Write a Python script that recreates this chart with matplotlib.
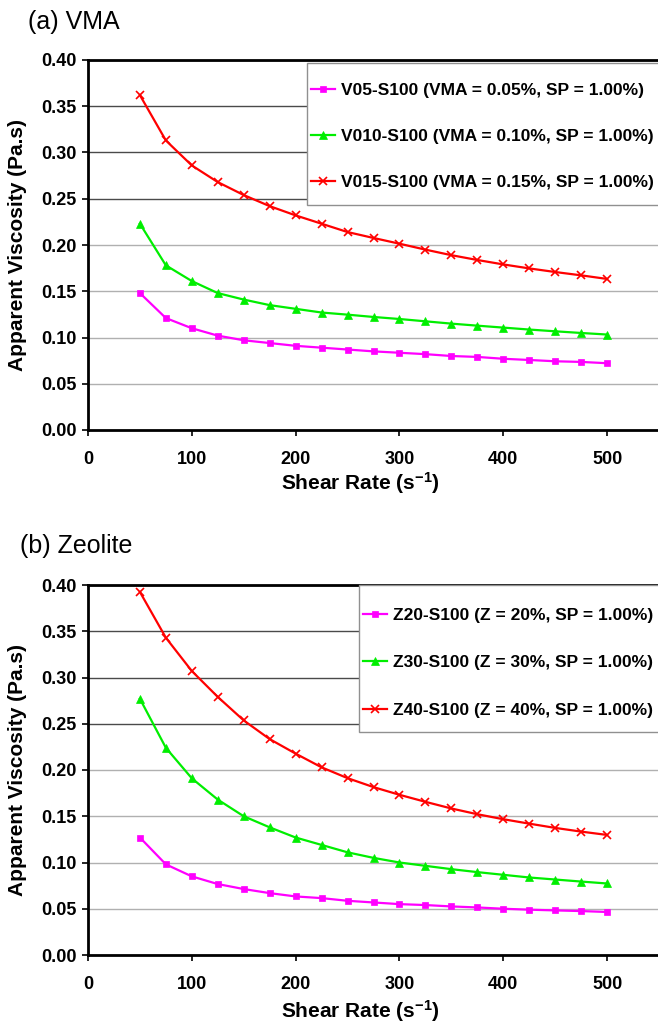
import matplotlib
matplotlib.use("Agg")
import matplotlib.pyplot as plt
from matplotlib.patches import Rectangle
from matplotlib.ticker import FormatStrFormatter, MultipleLocator

plt.rcParams['font.family'] = ['Liberation Sans', 'DejaVu Sans']
plt.rcParams['mathtext.fontset'] = 'custom'
plt.rcParams['mathtext.bf'] = 'Liberation Sans:bold'
plt.rcParams['mathtext.rm'] = 'Liberation Sans:bold'
plt.rcParams['mathtext.default'] = 'bf'

shear_rate = [50, 75, 100, 125, 150, 175, 200, 225, 250, 275, 300,
              325, 350, 375, 400, 425, 450, 475, 500]

# (a) VMA
v05 = [0.148, 0.121, 0.110, 0.102, 0.097, 0.094, 0.091, 0.089, 0.087, 0.085,
       0.0835, 0.082, 0.080, 0.079, 0.077, 0.0757, 0.0743, 0.0736, 0.0722]
v010 = [0.223, 0.178, 0.161, 0.148, 0.141, 0.135, 0.131, 0.127, 0.1247, 0.1222,
        0.120, 0.1175, 0.115, 0.1128, 0.1107, 0.1086, 0.1067, 0.1049, 0.1032]
v015 = [0.362, 0.313, 0.286, 0.268, 0.254, 0.242, 0.232, 0.223, 0.214, 0.2076,
        0.2014, 0.195, 0.189, 0.1838, 0.179, 0.1747, 0.1708, 0.1672, 0.1633]

# (b) Zeolite
z20 = [0.127, 0.098, 0.085, 0.0767, 0.0713, 0.0669, 0.0633, 0.0615, 0.0586, 0.0568,
       0.055, 0.054, 0.0525, 0.0514, 0.050, 0.049, 0.0482, 0.0475, 0.0465]
z30 = [0.277, 0.224, 0.191, 0.168, 0.150, 0.138, 0.127, 0.119, 0.111, 0.105,
       0.100, 0.0964, 0.0928, 0.0896, 0.0867, 0.0838, 0.0816, 0.0794, 0.0773]
z40 = [0.3925, 0.343, 0.307, 0.279, 0.2536, 0.2334, 0.2177, 0.2029, 0.1912, 0.1815,
       0.1732, 0.1656, 0.1584, 0.1522, 0.1468, 0.142, 0.1374, 0.1334, 0.1298]

labels_a = ["V05-S100 (VMA = 0.05%, SP = 1.00%)",
            "V010-S100 (VMA = 0.10%, SP = 1.00%)",
            "V015-S100 (VMA = 0.15%, SP = 1.00%)"]
labels_b = ["Z20-S100 (Z = 20%, SP = 1.00%)",
            "Z30-S100 (Z = 30%, SP = 1.00%)",
            "Z40-S100 (Z = 40%, SP = 1.00%)"]
titles = ["(a) VMA", "(b) Zeolite"]

colors = ['#FF00FF', '#00EE00', '#FF0000']
markers = ['s', '^', 'x']
msizes = [5, 6, 6]

W, H = 658, 1027
fig = plt.figure(figsize=(W / 100, H / 100), dpi=100)

def px_axes(left, top, right, bottom):
    return [left / W, 1 - bottom / H, (right - left) / W, (bottom - top) / H]

panels = [
    dict(rect=px_axes(88, 60, 659, 430), series=[v05, v010, v015], labels=labels_a,
         title=titles[0], title_xy=(28, 22), xlab_y=483,
         box=(307, 63, 205), leg=(311, 83), lsp=1.78),
    dict(rect=px_axes(88, 585, 659, 955), series=[z20, z30, z40], labels=labels_b,
         title=titles[1], title_xy=(20, 546), xlab_y=1011,
         box=(359, 585, 732), leg=(363, 608), lsp=1.85),
]

for p in panels:
    ax = fig.add_axes(p['rect'])
    l, b, w, h = p['rect']
    ax_left_px = l * W
    ax_w_px = w * W
    ax_top_px = (1 - (b + h)) * H
    ax_h_px = h * H
    ax_bot_px = ax_top_px + ax_h_px

    for ys, lab, c, m, ms in zip(p['series'], p['labels'], colors, markers, msizes):
        ax.plot(shear_rate, ys, color=c, lw=1.6, marker=m, markersize=ms,
                markeredgewidth=1.2 if m == 'x' else 0.5, markeredgecolor=c,
                markerfacecolor=c, label=lab, zorder=3)

    ax.set_xlim(0, 550)
    ax.set_ylim(0, 0.40)
    ax.yaxis.set_major_locator(MultipleLocator(0.05))
    ax.yaxis.set_major_formatter(FormatStrFormatter('%.2f'))
    ax.set_xticks([0, 100, 200, 300, 400, 500])

    ax.grid(axis='y', color='#b0b0b0', lw=1.0, zorder=0)
    ax.set_axisbelow(True)
    for gl, val in zip(ax.get_ygridlines(), ax.get_yticks()):
        if val >= 0.245:
            gl.set_color('#4a4a4a')

    for s in ['left', 'bottom', 'top']:
        ax.spines[s].set_linewidth(2.0)
        ax.spines[s].set_color('black')
    ax.spines['right'].set_visible(False)

    ax.tick_params(axis='both', direction='out', length=4, width=1.2,
                   labelsize=13)
    ax.tick_params(axis='x', pad=11)
    ax.tick_params(axis='y', pad=4)
    for t in ax.get_xticklabels() + ax.get_yticklabels():
        t.set_fontweight('bold')

    ax.set_xlabel(r'Shear Rate (s$^{-1}$)', fontsize=15, fontweight='bold')
    ax.xaxis.label.set_va('center')
    ax.xaxis.set_label_coords((360 - ax_left_px) / ax_w_px,
                              -(p['xlab_y'] - ax_bot_px) / ax_h_px)
    ax.set_ylabel('Apparent Viscosity (Pa.s)', fontsize=15, fontweight='bold')
    ax.yaxis.label.set_va('center')
    ax.yaxis.set_label_coords((18 - ax_left_px) / ax_w_px, 0.5)

    # legend box
    bx0, btop, bbot = p['box']
    x0 = (bx0 - ax_left_px) / ax_w_px
    y0 = (ax_bot_px - bbot) / ax_h_px
    y1 = (ax_bot_px - btop) / ax_h_px
    rect = Rectangle((x0, y0), 1.5, y1 - y0, transform=ax.transAxes,
                     facecolor='white', edgecolor='#909090', lw=1.0,
                     zorder=4, clip_on=False)
    ax.add_patch(rect)

    lx, ly = p['leg']
    leg = ax.legend(loc='upper left',
                    bbox_to_anchor=((lx - ax_left_px) / ax_w_px,
                                    (ax_bot_px - ly) / ax_h_px),
                    frameon=False, borderpad=0, borderaxespad=0,
                    handlelength=1.4, handletextpad=0.3,
                    labelspacing=p['lsp'],
                    prop={'weight': 'bold', 'size': 12.5})
    leg.set_zorder(5)

    tx, ty = p['title_xy']
    fig.text(tx / W, 1 - ty / H, p['title'], fontsize=18, va='center', ha='left')

fig.savefig('out.png', dpi=100)
